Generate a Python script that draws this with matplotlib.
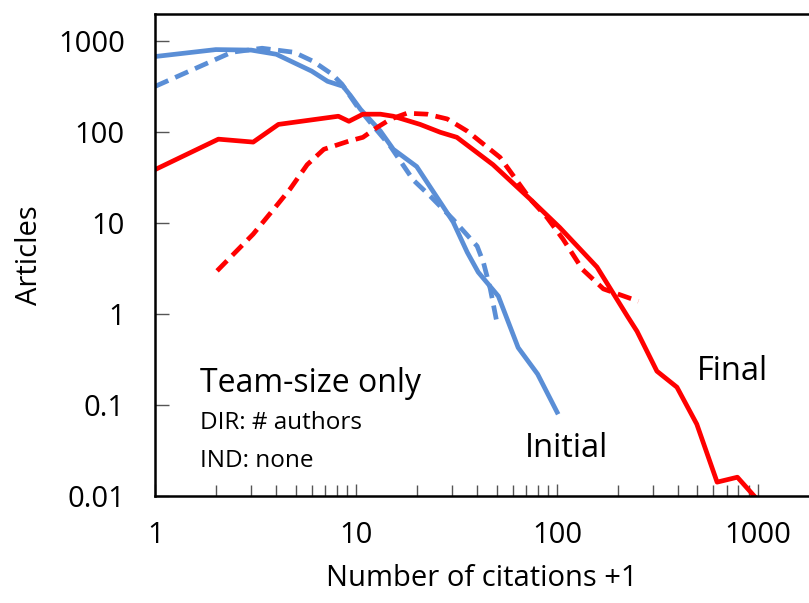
import matplotlib
matplotlib.use("Agg")
import matplotlib.pyplot as plt
from matplotlib.ticker import FixedLocator, NullFormatter, LogLocator

plt.rcParams["font.family"] = ["Open Sans", "DejaVu Sans"]

# initial distribution, solid blue
init_x = [1, 2, 3, 4, 6, 7.2, 8.6, 9.4, 10.5, 13.2, 15.3, 20, 27, 30.4, 35.7, 40.5, 51, 64, 80, 100]
init_y = [680, 810, 800, 720, 470, 363, 320, 250, 179, 103, 65, 42, 15.4, 10.3, 4.8, 2.9, 1.58, 0.43, 0.22, 0.084]

# initial model, dashed blue
init_m_x = [1, 2.4, 3.4, 4.9, 6.1, 7.6, 8.5, 10.1, 12.2, 14.8, 19.2, 23.4, 30.4, 40, 43, 46.5, 50.4]
init_m_y = [320, 757, 838, 757, 603, 433, 337, 193, 116, 70, 30, 19.8, 11, 5.6, 3.7, 1.9, 0.77]

# final distribution, solid red
final_x = [1, 2.06, 3.07, 4.1, 8.15, 9.2, 10.8, 13.2, 15.3, 20.8, 26.2, 31.7, 48, 73.5, 103, 158, 224, 250, 314, 395, 496, 626, 790, 960]
final_y = [39, 84, 78, 122, 150, 132, 158, 158, 150, 122, 100, 88, 44, 18.4, 9.0, 3.3, 0.95, 0.65, 0.237, 0.158, 0.062, 0.0143, 0.0162, 0.01]

# final model, dashed red
final_m_x = [2.03, 3.07, 4.05, 4.7, 5.7, 6.9, 9.2, 10.8, 12.7, 14.8, 17.9, 22.6, 28.4, 35.7, 52, 73.5, 89, 107, 134, 170, 254]
final_m_y = [3.0, 7.6, 16, 24, 44, 65, 80, 88, 113, 139, 162, 158, 140, 103, 53, 18.4, 11.6, 6.7, 3.1, 1.9, 1.39]

blue = "#5A8ED6"
red = "#FF0000"
H = 603  # figure height in px, for placing text from the top

fig = plt.figure(figsize=(8.09, 6.03), dpi=100)
ax = fig.add_axes([0.192, 0.177, 0.808, 0.800])

ax.plot(init_x, init_y, color=blue, lw=3.4)
ax.plot(init_m_x, init_m_y, color=blue, lw=3.4, dashes=(3, 1.6))
ax.plot(final_x, final_y, color=red, lw=3.4)
ax.plot(final_m_x, final_m_y, color=red, lw=3.4, dashes=(3, 1.6))

ax.set_xscale("log")
ax.set_yscale("log")
ax.set_xlim(1, 1795)
ax.set_ylim(0.01, 2000)

ax.xaxis.set_major_locator(FixedLocator([1, 10, 100, 1000]))
ax.xaxis.set_minor_locator(LogLocator(base=10, subs=range(2, 10)))
ax.xaxis.set_minor_formatter(NullFormatter())
ax.set_xticklabels(["1", "10", "100", "1000"])
ax.yaxis.set_major_locator(FixedLocator([0.01, 0.1, 1, 10, 100, 1000]))
ax.yaxis.set_minor_locator(FixedLocator([]))
ax.set_yticklabels(["0.01", "0.1", "1", "10", "100", "1000"])

ax.tick_params(axis="both", which="both", direction="in", color="#555555",
               labelsize=21, width=1)
ax.tick_params(axis="x", which="major", length=9, pad=18)
ax.tick_params(axis="x", which="minor", length=8)
ax.tick_params(axis="y", which="major", length=10, pad=22)

for s in ["left", "bottom", "top"]:
    ax.spines[s].set_linewidth(1.8)
    ax.spines[s].set_color("black")
ax.spines["right"].set_visible(False)

ax.set_xlabel("Number of citations +1", fontsize=21, labelpad=10)
ax.set_ylabel("Articles", fontsize=21, labelpad=10)

ax.text(200, H - 392, "Team-size only", transform=None, fontsize=23)
ax.text(200, H - 429, "DIR: # authors", transform=None, fontsize=17.5)
ax.text(200, H - 467, "IND: none", transform=None, fontsize=17.5)
ax.text(525, H - 457, "Initial", transform=None, fontsize=23.5)
ax.text(697, H - 380, "Final", transform=None, fontsize=23.5)

fig.savefig("out.png", dpi=100)
